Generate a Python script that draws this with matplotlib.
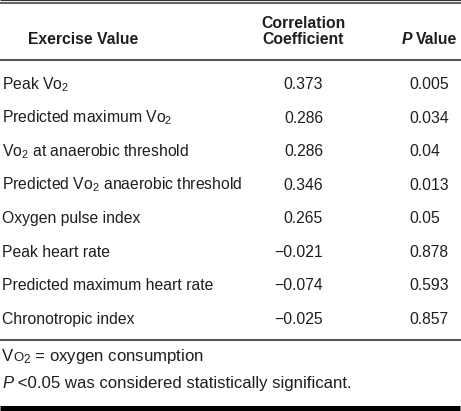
import matplotlib
matplotlib.use("Agg")
import matplotlib.pyplot as plt

plt.rcParams['font.family'] = ['Liberation Sans', 'DejaVu Sans']
plt.rcParams['mathtext.fontset'] = 'custom'
plt.rcParams['mathtext.rm'] = 'Liberation Sans'
plt.rcParams['mathtext.it'] = 'Liberation Sans:italic'
plt.rcParams['mathtext.bf'] = 'Liberation Sans:bold'

exercise_values = [
    r"Peak Vo$_{\mathregular{2}}$",
    r"Predicted maximum Vo$_{\mathregular{2}}$",
    r"Vo$_{\mathregular{2}}$ at anaerobic threshold",
    r"Predicted Vo$_{\mathregular{2}}$ anaerobic threshold",
    "Oxygen pulse index",
    "Peak heart rate",
    "Predicted maximum heart rate",
    "Chronotropic index",
]
correlation = ["0.373", "0.286", "0.286", "0.346", "0.265", "\u22120.021", "\u22120.074", "\u22120.025"]
p_values = ["0.005", "0.034", "0.04", "0.013", "0.05", "0.878", "0.593", "0.857"]
footnote1_rest = r"$_{\mathregular{2}}$ = oxygen consumption"
footnote2_rest = " <0.05 was considered statistically significant."

W, H = 461, 411
fig = plt.figure(figsize=(W / 100, H / 100), dpi=100)
ax = fig.add_axes([0, 0, 1, 1])
ax.set_xlim(0, W)
ax.set_ylim(H, 0)
ax.axis("off")

txt = "#1e1e1e"
fs = 11.3
ffs = 12.1

# rules
ax.plot([0, W], [0.5, 0.5], color="#333333", lw=0.8, solid_capstyle="butt")
ax.plot([0, W], [3.5, 3.5], color="#666666", lw=1.5, solid_capstyle="butt")
ax.plot([0, W], [60, 60], color="#555555", lw=1.5, solid_capstyle="butt")
ax.plot([0, W], [339.5, 339.5], color="#555555", lw=1.5, solid_capstyle="butt")
ax.plot([0, 460], [407.5, 407.5], color="#000000", lw=3.6, solid_capstyle="butt")

# header
hb1, hb2 = 27.5, 44.5
ax.text(83, hb2, "Exercise Value", ha="center", va="baseline", fontsize=fs, fontweight="bold", color=txt)
ax.text(303, hb1, "Correlation", ha="center", va="baseline", fontsize=fs, fontweight="bold", color=txt)
ax.text(303, hb2, "Coefficient", ha="center", va="baseline", fontsize=fs, fontweight="bold", color=txt)
tv = ax.text(457, hb2, "Value", ha="right", va="baseline", fontsize=fs, fontweight="bold", color=txt)
ax.annotate("P", xy=(0, hb2), xycoords=(tv, "data"), xytext=(-2.5, 0), textcoords="offset points",
            ha="right", va="baseline", fontsize=fs, fontweight="bold", fontstyle="italic", color=txt)

# rows
y0, dy = 89, 33.5
for i, (name, r, p) in enumerate(zip(exercise_values, correlation, p_values)):
    y = y0 + i * dy
    ax.text(2, y, name, ha="left", va="baseline", fontsize=fs, color=txt)
    ax.text(323, y, r, ha="right", va="baseline", fontsize=fs, color=txt)
    ax.text(409, y, p, ha="left", va="baseline", fontsize=fs, color=txt)

# footnotes
f1 = 361
tV = ax.text(2, f1, "V", ha="left", va="baseline", fontsize=ffs, color=txt)
tO = ax.annotate("O", xy=(1, f1), xycoords=(tV, "data"), ha="left", va="baseline",
                 fontsize=ffs * 0.78, color=txt)
ax.annotate(footnote1_rest, xy=(1, f1), xycoords=(tO, "data"), ha="left", va="baseline",
            fontsize=ffs, color=txt)
f2 = 388
tP = ax.text(2, f2, "P", ha="left", va="baseline", fontsize=ffs, fontstyle="italic", color=txt)
ax.annotate(footnote2_rest, xy=(1, f2), xycoords=(tP, "data"), ha="left", va="baseline",
            fontsize=ffs, color=txt)

fig.savefig("out.png", dpi=100)
